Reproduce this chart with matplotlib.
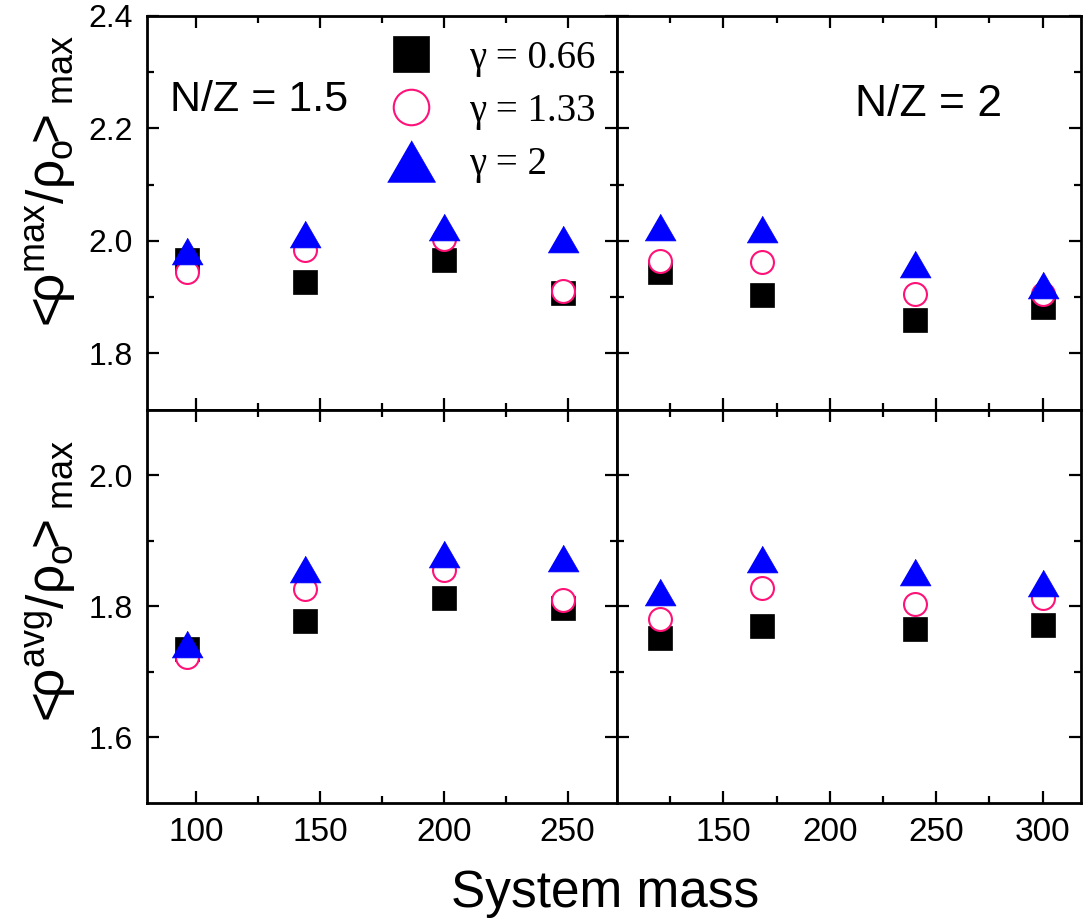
import matplotlib
matplotlib.use("Agg")
import matplotlib.pyplot as plt
from matplotlib.lines import Line2D

plt.rcParams["font.family"] = ["Liberation Sans", "DejaVu Sans"]
plt.rcParams["mathtext.fontset"] = "custom"
plt.rcParams["mathtext.rm"] = "Liberation Sans"
plt.rcParams["mathtext.it"] = "Liberation Sans"

# System masses for the two isospin asymmetries
mass_nz15 = [96, 144, 200, 248]
mass_nz2 = [120, 168, 240, 300]

# <rho_max / rho_0>_max
rhomax_nz15_g066 = [1.966, 1.927, 1.966, 1.908]
rhomax_nz15_g133 = [1.944, 1.984, 2.004, 1.910]
rhomax_nz15_g2 = [1.982, 2.013, 2.025, 2.004]
rhomax_nz2_g066 = [1.945, 1.903, 1.860, 1.882]
rhomax_nz2_g133 = [1.964, 1.963, 1.905, 1.905]
rhomax_nz2_g2 = [2.025, 2.021, 1.958, 1.922]

# <rho_avg / rho_0>_max
rhoavg_nz15_g066 = [1.735, 1.778, 1.812, 1.798]
rhoavg_nz15_g133 = [1.722, 1.827, 1.855, 1.810]
rhoavg_nz15_g2 = [1.743, 1.857, 1.879, 1.874]
rhoavg_nz2_g066 = [1.752, 1.770, 1.766, 1.772]
rhoavg_nz2_g133 = [1.780, 1.828, 1.803, 1.813]
rhoavg_nz2_g2 = [1.822, 1.872, 1.852, 1.835]

gamma_labels = ["\u03b3 = 0.66", "\u03b3 = 1.33", "\u03b3 = 2"]
panel_labels = ["N/Z = 1.5", "N/Z = 2"]

PINK = "#FF1177"
TRI = [(-1.0, -0.866), (1.0, -0.866), (0.0, 0.866)]

sq_style = dict(marker="s", ms=16.6, color="black", ls="none", mec="black", mew=0.5)
ci_style = dict(marker="o", ms=16.5, mfc="white", mec=PINK, mew=1.5, ls="none")
tr_style = dict(marker=TRI, ms=22.3, color="blue", mec="blue", mew=0.5, ls="none")

fig = plt.figure(figsize=(10.83, 9.23), dpi=100)
gs = fig.add_gridspec(2, 2, left=147 / 1083, right=1081 / 1083,
                      top=1 - 16 / 923, bottom=1 - 803 / 923,
                      wspace=0, hspace=0, width_ratios=[470, 464])
ax_tl = fig.add_subplot(gs[0, 0])
ax_tr = fig.add_subplot(gs[0, 1])
ax_bl = fig.add_subplot(gs[1, 0])
ax_br = fig.add_subplot(gs[1, 1])

panels = [
    (ax_tl, mass_nz15, rhomax_nz15_g066, rhomax_nz15_g133, rhomax_nz15_g2),
    (ax_tr, mass_nz2, rhomax_nz2_g066, rhomax_nz2_g133, rhomax_nz2_g2),
    (ax_bl, mass_nz15, rhoavg_nz15_g066, rhoavg_nz15_g133, rhoavg_nz15_g2),
    (ax_br, mass_nz2, rhoavg_nz2_g066, rhoavg_nz2_g133, rhoavg_nz2_g2),
]
for ax, m, a, b, c in panels:
    ax.plot(m, a, zorder=3, **sq_style)
    ax.plot(m, b, zorder=4, **ci_style)
    ax.plot(m, c, zorder=5, **tr_style)

for ax in (ax_tl, ax_bl):
    ax.set_xlim(80, 270)
    ax.set_xticks([100, 150, 200, 250])
    ax.set_xticks([125, 175, 225], minor=True)
for ax in (ax_tr, ax_br):
    ax.set_xlim(100, 318)
    ax.set_xticks([150, 200, 250, 300])
    ax.set_xticks([125, 175, 225, 275], minor=True)
for ax in (ax_tl, ax_tr):
    ax.set_ylim(1.7, 2.4)
    ax.set_yticks([1.8, 2.0, 2.2, 2.4])
    ax.set_yticks([1.9, 2.1, 2.3], minor=True)
    ax.tick_params(labelbottom=False)
for ax in (ax_bl, ax_br):
    ax.set_ylim(1.5, 2.1)
    ax.set_yticks([1.6, 1.8, 2.0])
    ax.set_yticks([1.7, 1.9], minor=True)
for ax in (ax_tr, ax_br):
    ax.tick_params(labelleft=False)

for ax in (ax_tl, ax_tr, ax_bl, ax_br):
    for sp in ax.spines.values():
        sp.set_linewidth(2.0)
    ax.tick_params(which="both", direction="in", top=True, right=True, width=1.6)
    ax.tick_params(which="major", length=8.6)
    ax.tick_params(which="minor", length=5)
    ax.tick_params(axis="x", labelsize=24, pad=10)
    ax.tick_params(axis="y", labelsize=23, pad=10)

ax_tl.text(0.049, 0.786, panel_labels[0], transform=ax_tl.transAxes,
           fontsize=31, va="center", ha="left")
ax_tr.text(0.513, 0.775, panel_labels[1], transform=ax_tr.transAxes,
           fontsize=32, va="center", ha="left")

ax_tl.set_ylabel(r"$\mathregular{<\!\!\rho^{max}/\rho_o\!\!>_{max}}$", fontsize=37)
ax_tl.yaxis.set_label_coords(-0.147, 0.57)
ax_bl.set_ylabel(r"$\mathregular{<\!\!\rho^{avg}/\rho_o\!\!>_{max}}$", fontsize=37)
ax_bl.yaxis.set_label_coords(-0.147, 0.555)

fig.text(605 / 1083, 1 - 907 / 923, "System mass", fontsize=37,
         ha="center", va="baseline")

handles = [Line2D([], [], **sq_style), Line2D([], [], **ci_style),
           Line2D([], [], **tr_style)]
ax_tl.legend(handles, gamma_labels, loc="upper left",
             bbox_to_anchor=(0.498, 0.94), frameon=False, markerscale=1.55,
             prop={"family": "Liberation Serif", "size": 28},
             labelspacing=0.42, handlelength=1.55, handletextpad=0.7,
             borderpad=0.0, borderaxespad=0.0)

fig.savefig("out.png", dpi=100)
